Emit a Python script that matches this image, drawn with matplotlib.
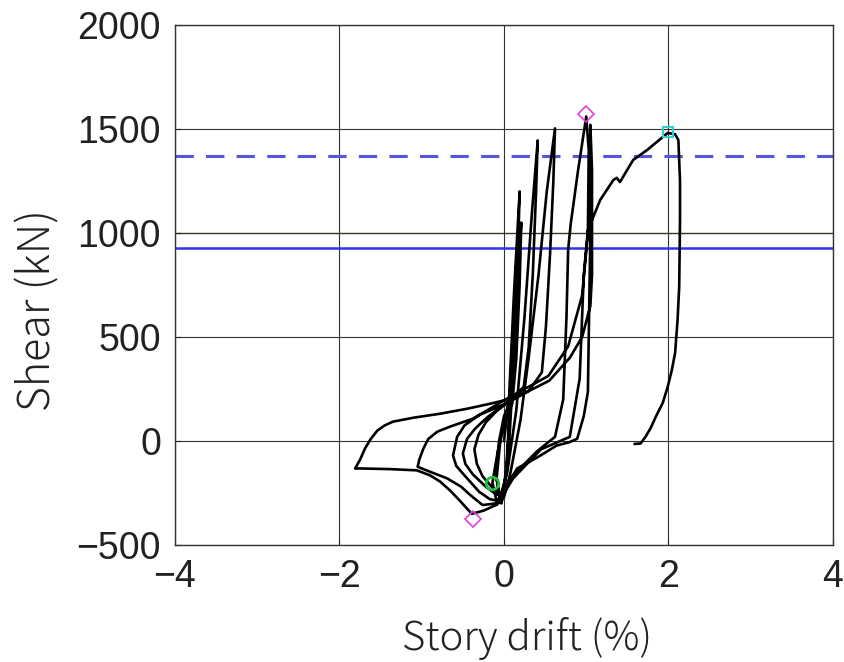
import matplotlib
matplotlib.use("Agg")
import matplotlib.pyplot as plt

# hysteresis path (drift %, shear kN)
drift = [
    # cycle 1 (thin spike)
    0.00, 0.06, 0.12, 0.19, 0.17, 0.13, 0.09, 0.00, -0.06, -0.10, -0.07, -0.02,
    # small cycles in the central bundle
    0.03, 0.07, 0.11, 0.15, 0.13, 0.10, 0.04, -0.04, -0.09, -0.05, 0.00,
    0.05, 0.10, 0.15, 0.21, 0.19, 0.15, 0.10, 0.02, -0.08, -0.14, -0.09, -0.03,
    # cycle 2
    0.03, 0.08, 0.13, 0.18, 0.16, 0.12, 0.06, -0.10, -0.22, -0.31, -0.36, -0.33,
    -0.26, -0.15, -0.04,
    # cycle 3
    0.04, 0.15, 0.25, 0.34, 0.41, 0.39, 0.35, 0.30, 0.24, 0.05, -0.20, -0.35,
    -0.45, -0.50, -0.47, -0.38, -0.22, -0.10, 0.00,
    # cycle 4
    0.08, 0.20, 0.30, 0.42, 0.52, 0.62, 0.60, 0.56, 0.51, 0.46, 0.30, 0.05, -0.30,
    -0.48, -0.57, -0.62, -0.58, -0.47, -0.30, -0.17, -0.05,
    # cycle 5 (1 %)
    0.10, 0.40, 0.62, 0.72, 0.76, 0.78, 0.81, 0.90, 1.00, 1.03, 1.02, 0.95, 0.78,
    0.54, 0.32, 0.00, -0.38, -0.65, -0.81, -0.92, -0.98, -1.03, -1.05, -0.95,
    -0.69, -0.52, -0.41, -0.26, -0.10,
    # cycle 6 (1 % again, then big negative excursion)
    0.16, 0.40, 0.64, 0.80, 0.89, 0.97, 1.02, 1.05, 1.05, 1.07, 1.07, 1.05, 0.95,
    0.80, 0.55, 0.30, 0.00, -0.17, -0.45, -0.78, -1.10, -1.35, -1.45, -1.54,
    -1.62, -1.69, -1.75, -1.81, -1.75, -1.40, -1.06, -0.90, -0.78, -0.65, -0.53,
    -0.45, -0.39, -0.25, -0.08,
    # cycle 7 (2 %)
    0.11, 0.45, 0.80, 0.92, 0.97, 1.02, 1.17, 1.33, 1.37, 1.41, 1.57, 1.74, 1.99,
    2.08, 2.12, 2.14, 2.14, 2.135, 2.13, 2.11, 2.08, 2.04, 1.99, 1.93, 1.85,
    1.78, 1.72, 1.66, 1.59,
]
shear = [
    0, 200, 700, 1200, 900, 500, 200, 120, 0, -150, -240, -280,
    -120, 150, 500, 850, 600, 300, 150, 20, -180, -270, -220,
    -100, 250, 650, 1050, 750, 400, 180, 110, -60, -200, -290, -300,
    -150, 200, 600, 1000, 700, 350, 190, 140, 90, 30, -40, -110,
    -170, -220, -260,
    -150, 150, 600, 1100, 1445, 1200, 800, 450, 260, 190, 115, 60,
    10, -60, -110, -160, -220, -255, -270,
    -150, 100, 400, 800, 1200, 1503, 1250, 900, 550, 330, 240, 185, 125,
    75, 20, -70, -120, -170, -245, -280, -290,
    -170, -50, 20, 200, 600, 920, 1040, 1300, 1560, 1400, 1000, 700, 455,
    313, 265, 195, 107, 70, 45, 10, -36, -90, -124, -140,
    -180, -220, -260, -308, -300,
    -132, -80, -22, -5, 11, 120, 236, 1000, 1520, 1300, 800, 650, 500,
    400, 290, 240, 195, 179, 155, 131, 112, 93, 75, 50,
    10, -36, -90, -132, -132, -135, -141, -165, -194, -240, -290,
    -325, -350, -335, -305,
    -180, -40, 20, 300, 800, 1014, 1159, 1255, 1265, 1245, 1351, 1399, 1481,
    1475, 1447, 1250, 1062, 900, 740, 580, 423, 340, 260, 183, 120,
    60, 20, -12, -14,
]

# reference levels and marked points
dashed_level = 1370
solid_level = 928
peak_pos = (1.00, 1572)
peak_neg = (-0.38, -375)
yield_pt = (-0.15, -202)
ult_pt = (1.99, 1486)

fig = plt.figure(figsize=(8.45, 6.62), dpi=100)
ax = fig.add_axes([175 / 845, 1 - 545 / 662, 658 / 845, 520 / 662])

ax.grid(True, color="#333333", linewidth=0.8)
ax.axhline(1000, color="#7a7a40", linewidth=1.0, zorder=1)
ax.axhline(dashed_level, color="#5555dd", linewidth=2.2, dashes=(6, 4), zorder=2)
ax.axhline(solid_level, color="#3333ee", linewidth=1.8, zorder=2)

ax.plot(drift, shear, color="black", linewidth=1.9, zorder=3)

ax.plot(*peak_pos, marker="D", markersize=8, mfc="none", mec="#e040e0", mew=1.2, zorder=4)
ax.plot(*peak_neg, marker="D", markersize=8, mfc="none", mec="#e040e0", mew=1.2, zorder=4)
ax.plot(*yield_pt, marker="o", markersize=9, mfc="none", mec="#20c040", mew=2.0, zorder=4)
ax.plot(*ult_pt, marker="s", markersize=7, mfc="none", mec="#30d0d0", mew=1.5, zorder=4)

ax.set_xlim(-4, 4)
ax.set_ylim(-500, 2000)
ax.set_xticks([-4, -2, 0, 2, 4])
ax.set_yticks([-500, 0, 500, 1000, 1500, 2000])
ax.tick_params(direction="in", length=4, labelsize=27, pad=10, colors="#222222")
for lab in ax.get_xticklabels() + ax.get_yticklabels():
    lab.set_family(["Liberation Sans", "DejaVu Sans"])
for s in ax.spines.values():
    s.set_color("#333333")
    s.set_linewidth(1.0)

ax.set_xlabel("Story drift (%)", fontsize=29, family=["Noto Sans CJK JP", "DejaVu Sans"],
              weight="light", color="#222222", va="center")
ax.set_ylabel("Shear (kN)", fontsize=31, family=["Noto Sans CJK JP", "DejaVu Sans"],
              weight="light", color="#222222", va="center")
ax.xaxis.set_label_coords(0.535, -0.179)
ax.yaxis.set_label_coords(-0.208, 0.452)

fig.savefig("out.png", dpi=100)
